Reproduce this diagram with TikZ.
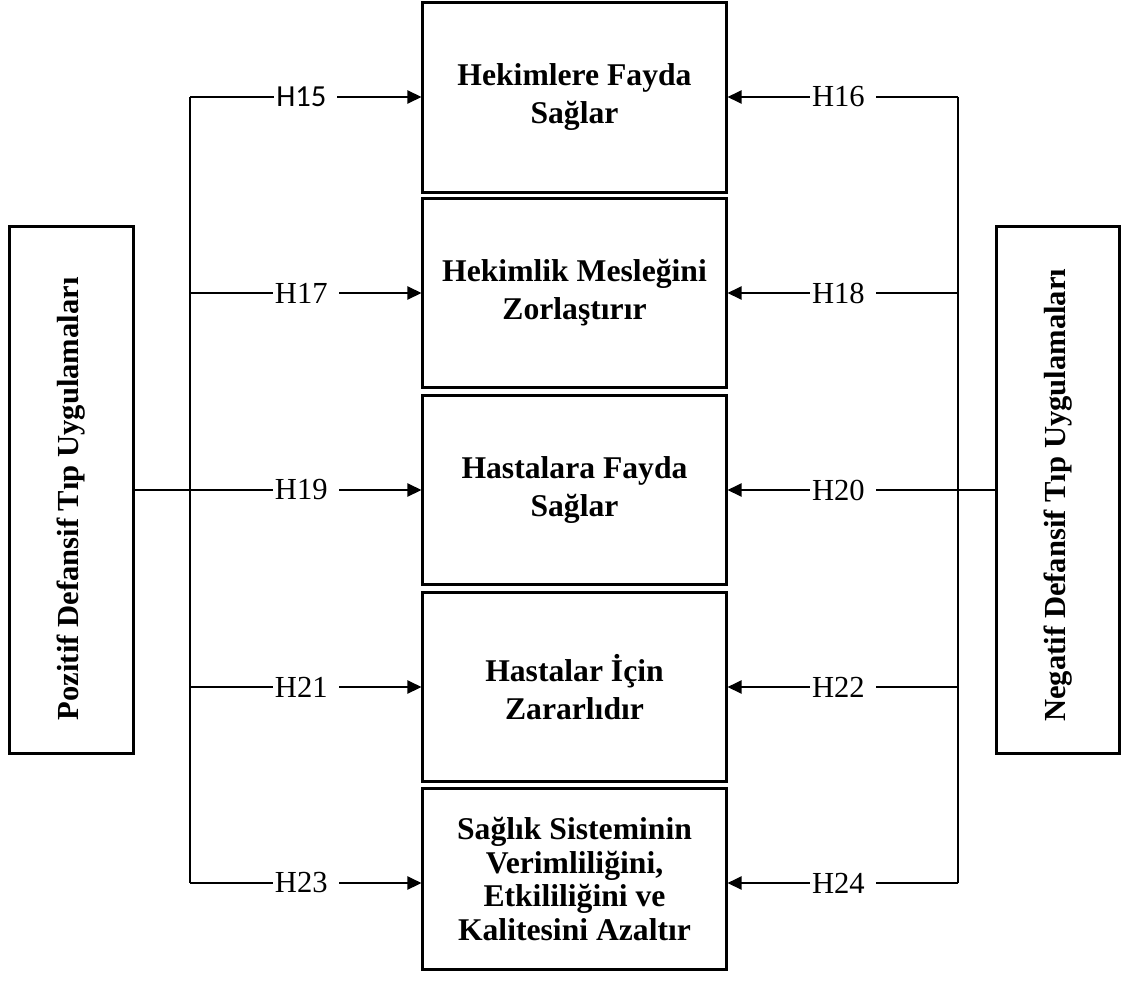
\documentclass[tikz,border=0pt]{standalone}
\usepackage{fontspec}
\setmainfont{Liberation Serif}
\newfontfamily\calibri{Carlito}
\newcommand\hsans{\fontsize{8.7}{10}\calibri}
\newcommand\hserif{}
\usetikzlibrary{arrows.meta}

\begin{document}
\begin{tikzpicture}[x=0.01cm,y=-0.01cm,
		box/.style={draw,line width=0.85pt,minimum width=3.03cm,minimum height=1.89cm,align=center,font=\fontsize{9}{10.8}\selectfont\bfseries},
		side/.style={draw,line width=0.85pt,rotate=90,minimum width=5.26cm,minimum height=1.23cm,font=\fontsize{8.7}{10.4}\selectfont\bfseries},
		hyp/.style={fill=white,inner xsep=0.6pt,inner ysep=1pt,font=\fontsize{8.7}{10.4}\selectfont},
		arr/.style={-{Triangle[length=4pt,width=3.8pt]}}]
		\useasboundingbox (0,0) rectangle (1128,982);
		
		%outcome boxes
		\node[box] (hek) at (574.5,97.5) {Hekimlere Fayda\\Sağlar};
		\node[box] (mes) at (574.5,293) {Hekimlik Mesleğini\\Zorlaştırır};
		\node[box] (hfay) at (574.5,490) {Hastalara Fayda\\Sağlar};
		\node[box] (hzar) at (574.5,687) {Hastalar İçin\\Zararlıdır};
		\node[box,minimum height=1.8cm,font=\fontsize{9}{9.5}\selectfont\bfseries] (sis) at (574.5,879) {Sağlık Sisteminin\\Verimliliğini,\\Etkililiğini ve\\Kalitesini Azaltır};
		
		%rotated boxes: south is the right side, north the left side
		\node[side] (pos) at (71.5,490) {Pozitif Defansif Tıp Uygulamaları\hspace*{5pt}};
		\node[side] (neg) at (1058,490) {Negatif Defansif Tıp Uygulamaları\hspace*{3pt}};
		
		%hypotheses
		\foreach \n/\y/\f/\a/\b in {hek/97/\hsans/15/16, mes/293/\hserif/17/18, hfay/490/\hserif/19/20, hzar/687/\hserif/21/22, sis/883/\hserif/23/24}{
			\coordinate (l\n) at (190,\y);
			\coordinate (r\n) at (958,\y);
			\draw[arr] (l\n) -- node[hyp] {\f H\a\hspace*{2.5pt}} (\n.west |- l\n);
			\draw[arr] (r\n) -- node[hyp] {H\b\hspace*{2.5pt}} (\n.east |- r\n);
		}
		
		\draw (lhek) -- (lsis);
		\draw (rhek) -- (rsis);
		\draw (pos.south) -- (lhfay);
		\draw (neg.north) -- (rhfay);
		\end{tikzpicture}
\end{document}
